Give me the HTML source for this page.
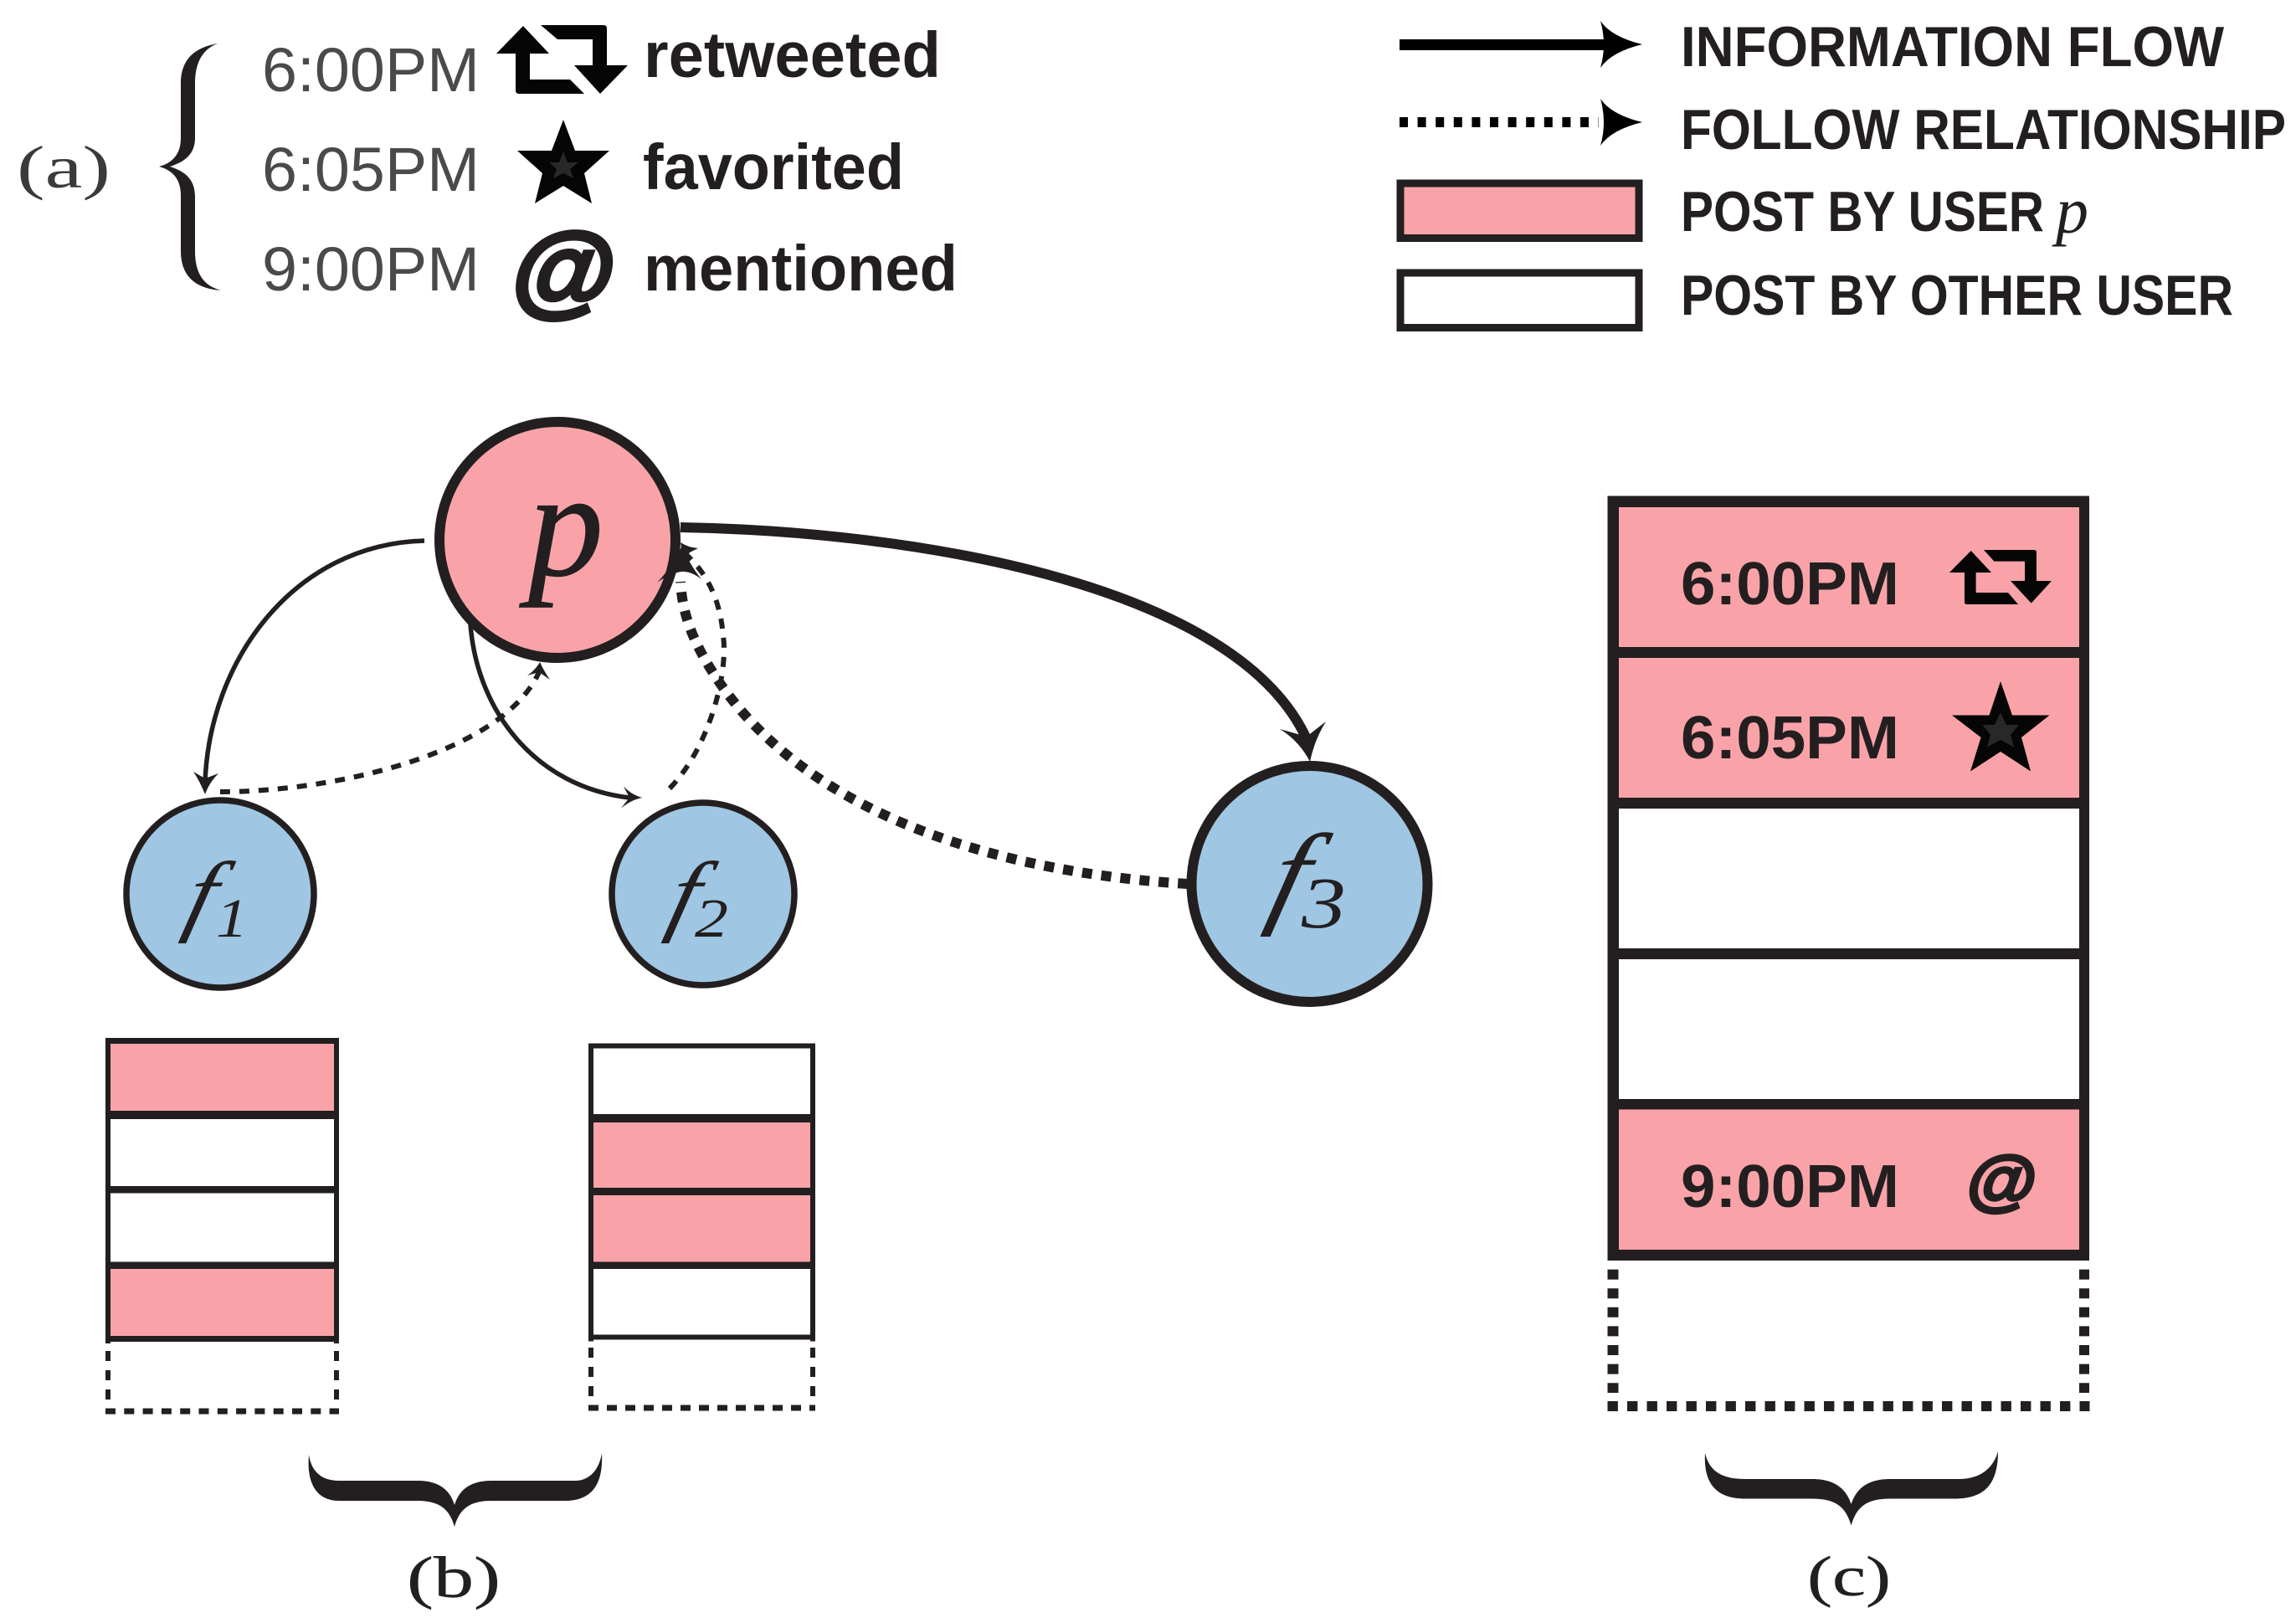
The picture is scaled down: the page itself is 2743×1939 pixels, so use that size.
<!DOCTYPE html>
<html>
<head>
<meta charset="utf-8">
<style>
html,body{margin:0;padding:0;background:#fff;}
svg{display:block;}
text{fill:#231f20;}
.s{font-family:"Liberation Sans",sans-serif;}
.b{font-family:"Liberation Sans",sans-serif;font-weight:bold;}
.m{font-family:"Liberation Serif",serif;font-style:italic;}
.r{font-family:"Liberation Serif",serif;}
</style>
</head>
<body>
<svg width="2743" height="1939" viewBox="0 0 2743 1939" xmlns="http://www.w3.org/2000/svg">
<rect width="2743" height="1939" fill="#fff"/>

<!-- (a) legend -->
<text class="r" x="20" y="224" font-size="72" textLength="112" lengthAdjust="spacingAndGlyphs" style="fill:#3a3a3a">(a)</text>
<path d="M260,52 C236,56 216,68 216,100 L216,165 C216,185 205,195 190,199 C205,203 216,213 216,233 L216,300 C216,332 236,345 264,347 C246,342 233,330 233,300 L233,235 C233,215 222,205 203,199 C222,193 233,183 233,165 L233,100 C233,72 244,58 260,52 Z" fill="#231f20"/>

<text class="s" x="313" y="109" font-size="74" textLength="260" lengthAdjust="spacingAndGlyphs" style="fill:#4a4a4a">6:00PM</text>
<text class="s" x="313" y="228" font-size="74" textLength="260" lengthAdjust="spacingAndGlyphs" style="fill:#4a4a4a">6:05PM</text>
<text class="s" x="313" y="347" font-size="74" textLength="260" lengthAdjust="spacingAndGlyphs" style="fill:#4a4a4a">9:00PM</text>

<path d="M625,31 L656,64 L633,64 L633,95 L681,95 L698,112 L620,112 Q616,112 616,108 L616,64 L593,64 Z" fill="#050505"/>
<path d="M646,30 L721,30 Q725,30 725,34 L725,78 L750,78 L717,112 L686,78 L708,78 L708,47 L666,47 Z" fill="#050505"/>
<text class="b" x="769" y="92" font-size="77" textLength="355" lengthAdjust="spacingAndGlyphs">retweeted</text>

<polygon points="673,143 687,180 728,180 698,207 707,243 673,222 639,243 648,207 618,180 659,180" fill="#050505"/>
<polygon points="673,181 678,194 691,194 681,202 685,213 673,207 661,213 665,202 656,194 668,194" fill="#2a2728"/>
<text class="b" x="768" y="226" font-size="77" textLength="312" lengthAdjust="spacingAndGlyphs">favorited</text>

<text class="b" transform="translate(606,365) skewX(-8)" x="0" y="0" font-size="122" font-style="italic" textLength="122" lengthAdjust="spacingAndGlyphs" stroke="#231f20" stroke-width="5">@</text>
<text class="b" x="769" y="347" font-size="77" textLength="375" lengthAdjust="spacingAndGlyphs">mentioned</text>

<!-- legend right -->
<rect x="1672" y="47" width="245" height="13" fill="#000"/>
<path d="M1962,53 Q1925,44 1912,25 Q1920,53 1912,81 Q1925,62 1962,53 Z" fill="#000"/>
<line x1="1672" y1="146" x2="1910" y2="146" stroke="#000" stroke-width="12" stroke-dasharray="10 11.6"/>
<path d="M1962,146 Q1925,137 1912,118 Q1920,146 1912,174 Q1925,155 1962,146 Z" fill="#000"/>
<rect x="1673" y="219" width="285" height="65.500" fill="#f9a3a8" stroke="#231f20" stroke-width="9"/>
<rect x="1673" y="326" width="285" height="65.500" fill="#fff" stroke="#231f20" stroke-width="9"/>
<text class="b" x="2008" y="79" font-size="68" textLength="649" lengthAdjust="spacingAndGlyphs">INFORMATION FLOW</text>
<text class="b" x="2008" y="178" font-size="68" textLength="723" lengthAdjust="spacingAndGlyphs">FOLLOW RELATIONSHIP</text>
<text class="b" x="2008" y="276" font-size="68" textLength="434" lengthAdjust="spacingAndGlyphs">POST BY USER</text>
<text class="m" x="2456" y="278" font-size="78">p</text>
<text class="b" x="2008" y="376" font-size="68" textLength="660" lengthAdjust="spacingAndGlyphs">POST BY OTHER USER</text>

<!-- connectors (under nodes) -->
<path d="M507,646 C350,650 250,790 245,935" fill="none" stroke="#231f20" stroke-width="5.500"/>
<path d="M562,746 C570,850 640,940 752,953" fill="none" stroke="#231f20" stroke-width="5.500"/>
<path d="M263,946 C400,946 600,900 644,803" fill="none" stroke="#231f20" stroke-width="6" stroke-dasharray="12 11"/>
<path d="M800,942 C850,890 870,800 864,760 C860,710 840,680 817,660" fill="none" stroke="#231f20" stroke-width="6" stroke-dasharray="12 11"/>
<path d="M813,630 C1100,635 1480,700 1562,885" fill="none" stroke="#231f20" stroke-width="12"/>
<path d="M1419,1056 C1230,1045 980,990 860,816 C825,765 815,730 813,695" fill="none" stroke="#231f20" stroke-width="12" stroke-dasharray="12 11"/>

<!-- nodes -->
<circle cx="666" cy="645" r="141" fill="#f9a3a8" stroke="#231f20" stroke-width="12"/>
<circle cx="263" cy="1068" r="112" fill="#9fc6e2" stroke="#231f20" stroke-width="7.500"/>
<circle cx="840" cy="1068" r="109" fill="#9fc6e2" stroke="#231f20" stroke-width="7.500"/>
<circle cx="1564.500" cy="1056" r="141" fill="#9fc6e2" stroke="#231f20" stroke-width="12"/>

<text class="m" x="631" y="687" font-size="180" stroke="#231f20" stroke-width="1">p</text>
<text class="m" transform="translate(217,1104) skewX(-14) scale(1.1,1)" font-size="108">f</text>
<text class="m" x="258" y="1119" font-size="66" textLength="38" lengthAdjust="spacingAndGlyphs">1</text>
<text class="m" transform="translate(794,1104) skewX(-14) scale(1.1,1)" font-size="108">f</text>
<text class="m" x="830" y="1119" font-size="66" textLength="40" lengthAdjust="spacingAndGlyphs">2</text>
<text class="m" transform="translate(1511,1090) skewX(-14) scale(1.1,1)" font-size="136">f</text>
<text class="m" x="1555" y="1108" font-size="87" textLength="53" lengthAdjust="spacingAndGlyphs">3</text>

<!-- arrowheads -->
<path d="M245,949 Q238,932 231,922 L245,930 L261,924 Q250,935 245,949 Z" fill="#231f20"/>
<path d="M645,791 Q640,800 630,807 L644,803 L657,812 Q650,802 645,791 Z" fill="#231f20"/>
<path d="M767.500,953 Q755,950 745,939.500 L752,953 L742,965.500 Q755,955 767.500,953 Z" fill="#231f20"/>
<path d="M813,648 Q822,654 834,655 L824,660 L816,672 Q815,660 813,648 Z" fill="#231f20"/>
<path d="M815,651 Q822,672 838,692 Q825,682 814,683 Q800,685 785,696 Q805,675 815,651 Z" fill="#231f20"/>
<path d="M1565,910 Q1552,885 1529,871 L1561,880 L1584,862 Q1570,885 1565,910 Z" fill="#231f20"/>

<!-- stack f1 -->
<rect x="132" y="1247" width="267" height="80" fill="#f9a3a8"/>
<rect x="132" y="1516" width="267" height="80" fill="#f9a3a8"/>
<rect x="126" y="1240" width="279" height="7" fill="#231f20"/>
<rect x="126" y="1327" width="279" height="10" fill="#231f20"/>
<rect x="126" y="1417" width="279" height="8.500" fill="#231f20"/>
<rect x="126" y="1507.500" width="279" height="8.500" fill="#231f20"/>
<rect x="126" y="1596" width="279" height="7" fill="#231f20"/>
<rect x="126" y="1240" width="6" height="365" fill="#231f20"/>
<rect x="399" y="1240" width="6" height="365" fill="#231f20"/>
<line x1="129" y1="1614" x2="129" y2="1680" stroke="#231f20" stroke-width="6" stroke-dasharray="12 11"/>
<line x1="402" y1="1614" x2="402" y2="1680" stroke="#231f20" stroke-width="6" stroke-dasharray="12 11"/>
<line x1="126" y1="1686" x2="405" y2="1686" stroke="#231f20" stroke-width="7" stroke-dasharray="12 10.300"/>

<!-- stack f2 -->
<rect x="709" y="1341" width="260" height="78" fill="#f9a3a8"/>
<rect x="709" y="1428" width="260" height="79.500" fill="#f9a3a8"/>
<rect x="703" y="1246.500" width="271" height="6" fill="#231f20"/>
<rect x="703" y="1331" width="271" height="10" fill="#231f20"/>
<rect x="703" y="1419" width="271" height="9" fill="#231f20"/>
<rect x="703" y="1507.500" width="271" height="8.500" fill="#231f20"/>
<rect x="703" y="1594.500" width="271" height="6" fill="#231f20"/>
<rect x="703" y="1246.500" width="6" height="356" fill="#231f20"/>
<rect x="968" y="1246.500" width="6" height="356" fill="#231f20"/>
<line x1="706" y1="1610" x2="706" y2="1676" stroke="#231f20" stroke-width="6" stroke-dasharray="12 11"/>
<line x1="971" y1="1610" x2="971" y2="1676" stroke="#231f20" stroke-width="6" stroke-dasharray="12 11"/>
<line x1="703" y1="1682" x2="974" y2="1682" stroke="#231f20" stroke-width="7" stroke-dasharray="12 10"/>

<!-- big stack c -->
<rect x="1934" y="606" width="550" height="167" fill="#f9a3a8"/>
<rect x="1934" y="786" width="550" height="167" fill="#f9a3a8"/>
<rect x="1934" y="1325.500" width="550" height="167.500" fill="#f9a3a8"/>
<rect x="1920.500" y="592.500" width="575.500" height="13.500" fill="#231f20"/>
<rect x="1920.500" y="773" width="575.500" height="13" fill="#231f20"/>
<rect x="1920.500" y="953" width="575.500" height="13" fill="#231f20"/>
<rect x="1920.500" y="1133" width="575.500" height="13" fill="#231f20"/>
<rect x="1920.500" y="1313" width="575.500" height="12.500" fill="#231f20"/>
<rect x="1920.500" y="1493" width="575.500" height="13" fill="#231f20"/>
<rect x="1920.500" y="592.500" width="13.500" height="913.500" fill="#231f20"/>
<rect x="2484" y="592.500" width="12" height="913.500" fill="#231f20"/>
<line x1="1927" y1="1516.600" x2="1927" y2="1664" stroke="#231f20" stroke-width="13" stroke-dasharray="12 10.600"/>
<line x1="2490" y1="1516.600" x2="2490" y2="1664" stroke="#231f20" stroke-width="12" stroke-dasharray="12 10.600"/>
<line x1="1920.500" y1="1680" x2="2496.500" y2="1680" stroke="#231f20" stroke-width="12" stroke-dasharray="12.400 11.100"/>

<text class="b" x="2008" y="722" font-size="72" textLength="261" lengthAdjust="spacingAndGlyphs">6:00PM</text>
<text class="b" x="2008" y="906" font-size="72" textLength="261" lengthAdjust="spacingAndGlyphs">6:05PM</text>
<text class="b" x="2008" y="1442" font-size="72" textLength="261" lengthAdjust="spacingAndGlyphs">9:00PM</text>

<path d="M2354.700,658 L2379,684 L2360.600,684 L2360.600,708 L2399,708 L2411,722 L2350,722 Q2347,722 2347,719 L2347,684 L2329,684 Z" fill="#050505"/>
<path d="M2370,657 L2430,657 Q2433,657 2433,660 L2433,694 L2451,694 L2426.700,720.600 L2402,694 L2419,694 L2419,670.600 L2382.400,670.600 Z" fill="#050505"/>
<polygon points="2390,814 2404,854.500 2448.500,854.500 2415,881 2426,921.500 2390,898 2354,921.500 2366.600,881 2332,854.500 2376.500,854.500" fill="#050505"/>
<polygon points="2390,851 2397,866 2412,866 2402,878 2406,892.500 2390,884 2374,892.500 2378,878 2368.500,866 2383,866" fill="#2a2728"/>
<text class="b" transform="translate(2346,1438) skewX(-8)" x="0" y="0" font-size="80" font-style="italic" textLength="82" lengthAdjust="spacingAndGlyphs" stroke="#231f20" stroke-width="3.500">@</text>

<!-- braces -->
<path d="M369,1738 C372,1758 384,1769 405,1769 L499,1769 C522,1769 537,1778 543,1798 C549,1778 564,1769 587,1769 L687,1769 C705,1769 716,1755 719,1736 C721,1772 708,1793 675,1793 L587,1793 C562,1793 549,1802 543,1824 C537,1802 524,1793 499,1793 L405,1793 C378,1793 366,1772 369,1738 Z" fill="#231f20"/>
<text class="r" x="486" y="1908" font-size="70" textLength="112" lengthAdjust="spacingAndGlyphs" stroke="#231f20" stroke-width="0.400">(b)</text>

<path d="M2037,1736 C2042,1757 2056,1767 2085,1767 L2165,1767 C2190,1767 2205,1777 2211.600,1797 C2218,1777 2233,1767 2258,1767 L2340,1767 C2365,1767 2381,1755 2387,1734 C2387,1772 2372,1790.500 2335,1790.500 L2258,1790.500 C2230,1790.500 2218,1800 2211.600,1822.500 C2205,1800 2193,1790.500 2165,1790.500 L2085,1790.500 C2050,1790.500 2035,1772 2037,1736 Z" fill="#231f20"/>
<text class="r" x="2159" y="1906" font-size="68" textLength="100" lengthAdjust="spacingAndGlyphs" stroke="#231f20" stroke-width="0.400">(c)</text>
</svg>
</body>
</html>
